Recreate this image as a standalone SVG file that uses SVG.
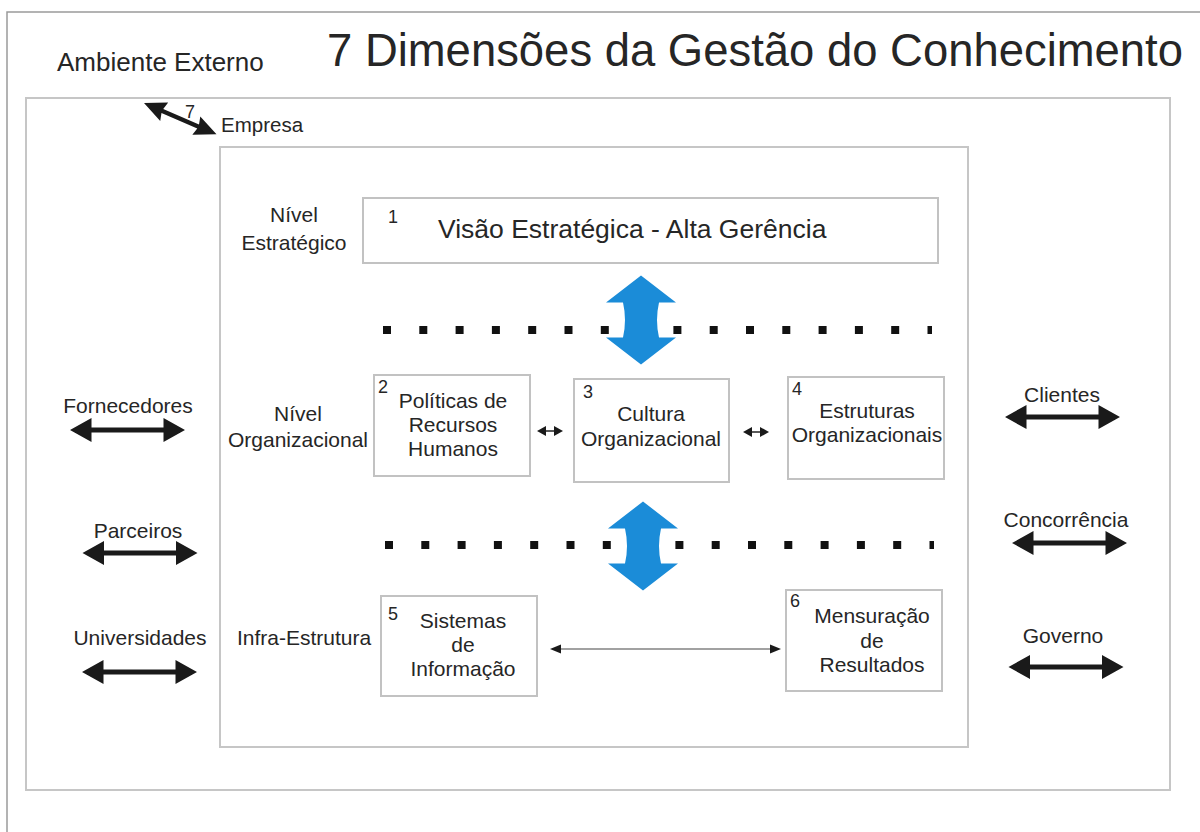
<svg xmlns="http://www.w3.org/2000/svg" xmlns:xlink="http://www.w3.org/1999/xlink" width="1200" height="832" viewBox="0 0 1200 832">
<style>
.t{font-family:"Liberation Sans",Arial,Helvetica,sans-serif;fill:#262626}
.lbl{font-size:21px}
.num{font-size:18px}
.mid{text-anchor:middle}
.box{fill:#fff;stroke:#c2c2c2;stroke-width:2}
.area{fill:none;stroke:#c6c6c6;stroke-width:2}
.frame{fill:none;stroke:#9a9a9a;stroke-width:1.5}
.dots{stroke:#111;stroke-width:8;stroke-dasharray:8 28.3;fill:none}
.blue{fill:#1b8cd8}
.blk{fill:#1a1a1a}
.thin{stroke:#444;stroke-width:1.2;fill:none}
</style>
<defs>
<path id="bigArrow" class="blk" d="M-57.5,0 L-36,-12 L-36,-2.5 L36,-2.5 L36,-12 L57.5,0 L36,12 L36,2.5 L-36,2.5 L-36,12 Z"/>
<path id="blueArrow" class="blue" d="M0,-44.5 L35,-17.5 L18,-17.5 Q14,0 18,17.5 L35,17.5 L0,44.5 L-35,17.5 L-18,17.5 Q-14,0 -18,-17.5 L-35,-17.5 Z"/>
<g id="smallPair">
<path class="blk" d="M0,0 L9,-5 L9,5 Z"/>
<path class="blk" d="M26,0 L17,-5 L17,5 Z"/>
<line x1="9" y1="0" x2="17" y2="0" stroke="#222" stroke-width="1.5"/>
</g>
</defs>
<rect width="1200" height="832" fill="#fff"/>
<path class="frame" d="M7,832 L7,12 L1200,12"/>
<text class="t" x="327" y="66" font-size="46" textLength="856" lengthAdjust="spacingAndGlyphs">7 Dimensões da Gestão do Conhecimento</text>
<g id="ambiente-externo">
<rect class="area" x="26" y="98" width="1144" height="692"/>
<text class="t" x="57" y="71" font-size="26">Ambiente Externo</text>
</g>
<g id="empresa">
<rect class="area" x="220" y="147" width="748" height="600"/>
<text class="t" x="221" y="132" font-size="20.5">Empresa</text>
</g>
<g id="level-labels">
<text class="t lbl mid" x="294" y="222">Nível</text>
<text class="t lbl mid" x="294" y="250">Estratégico</text>
<text class="t lbl mid" x="298" y="421">Nível</text>
<text class="t lbl mid" x="298" y="447">Organizacional</text>
<text class="t lbl" x="237" y="645">Infra-Estrutura</text>
</g>
<g id="n1">
<rect class="box" x="363" y="198" width="575" height="65"/>
<text class="t num" x="388" y="223">1</text>
<text class="t" x="438" y="238" font-size="26.5">Visão Estratégica - Alta Gerência</text>
</g>
<g id="n2">
<rect class="box" x="374" y="375" width="156" height="101"/>
<text class="t num" x="378" y="393">2</text>
<text class="t lbl mid" x="453" y="408">Políticas de</text>
<text class="t lbl mid" x="453" y="432">Recursos</text>
<text class="t lbl mid" x="453" y="456">Humanos</text>
</g>
<g id="n3">
<rect class="box" x="574" y="379" width="155" height="103"/>
<text class="t num" x="583" y="398">3</text>
<text class="t lbl mid" x="651" y="421">Cultura</text>
<text class="t lbl mid" x="651" y="446">Organizacional</text>
</g>
<g id="n4">
<rect class="box" x="788" y="377" width="156" height="102"/>
<text class="t num" x="792" y="395">4</text>
<text class="t lbl mid" x="867" y="418">Estruturas</text>
<text class="t lbl mid" x="867" y="442">Organizacionais</text>
</g>
<g id="n5">
<rect class="box" x="381" y="596" width="156" height="100"/>
<text class="t num" x="388" y="620">5</text>
<text class="t lbl mid" x="463" y="628">Sistemas</text>
<text class="t lbl mid" x="463" y="652">de</text>
<text class="t lbl mid" x="463" y="676">Informação</text>
</g>
<g id="n6">
<rect class="box" x="786" y="590" width="156" height="101"/>
<text class="t num" x="790" y="607">6</text>
<text class="t lbl mid" x="872" y="623">Mensuração</text>
<text class="t lbl mid" x="872" y="648">de</text>
<text class="t lbl mid" x="872" y="672">Resultados</text>
</g>
<g id="external">
<text class="t lbl mid" x="128" y="413">Fornecedores</text>
<text class="t lbl mid" x="138" y="538">Parceiros</text>
<text class="t lbl mid" x="140" y="645">Universidades</text>
<text class="t lbl mid" x="1062" y="402">Clientes</text>
<text class="t lbl mid" x="1066" y="527">Concorrência</text>
<text class="t lbl mid" x="1063" y="643">Governo</text>
</g>
<g id="connectors">
<line class="dots" x1="383" y1="330" x2="932" y2="330"/>
<line class="dots" x1="385" y1="545" x2="934" y2="545"/>
<use xlink:href="#blueArrow" href="#blueArrow" x="641" y="320"/>
<use xlink:href="#blueArrow" href="#blueArrow" x="643" y="546"/>
<use xlink:href="#smallPair" href="#smallPair" x="537" y="431"/>
<use xlink:href="#smallPair" href="#smallPair" x="743" y="432"/>
<g id="c5-6">
<line class="thin" x1="556" y1="649" x2="775" y2="649"/>
<path class="blk" d="M550,649 L561,644.5 L561,653.5 Z"/>
<path class="blk" d="M781,649 L770,644.5 L770,653.5 Z"/>
</g>
<path class="blk" transform="translate(144,103) rotate(23.4)" d="M0,0 L22,-10 L20,-2.2 L59,-2.2 L57,-10 L79,0 L57,10 L59,2.2 L20,2.2 L22,10 Z"/>
<text class="t num" x="185" y="118">7</text>
<use xlink:href="#bigArrow" href="#bigArrow" x="127.5" y="430"/>
<use xlink:href="#bigArrow" href="#bigArrow" x="140" y="553"/>
<use xlink:href="#bigArrow" href="#bigArrow" x="139.5" y="672"/>
<use xlink:href="#bigArrow" href="#bigArrow" x="1062.5" y="417"/>
<use xlink:href="#bigArrow" href="#bigArrow" x="1069.5" y="543"/>
<use xlink:href="#bigArrow" href="#bigArrow" x="1066" y="667"/>
</g>
</svg>
